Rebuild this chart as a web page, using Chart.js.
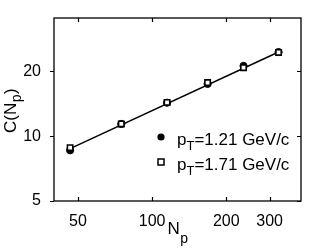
<!DOCTYPE html>
<html>
<head>
<meta charset="utf-8">
<script src="https://cdn.jsdelivr.net/npm/chart.js@4"></script>
<style>
    html, body { margin: 0; padding: 0; background: #fff; }
    #wrap { width: 332px; height: 250px; }
</style>
</head>
<body>
<div id="wrap"><canvas id="chart"></canvas></div>
<script>
// Participant numbers (x) and C(Np) values
const nPart = [46.5, 75, 115, 168, 235, 326];
const cLow = [8.6, 11.4, 14.3, 17.5, 21.2, 24.6];   // pT = 1.21 GeV/c
const cHigh = [8.85, 11.4, 14.35, 17.75, 20.8, 24.5]; // pT = 1.71 GeV/c
// fit line end points
const fitX = [46.5, 326];
const fitY = [8.75, 24.6];
// tick labels
const xTicks = [50, 100, 200, 300];
const yTicks = [5, 10, 20];
const legendLabels = ['=1.21 GeV/c', '=1.71 GeV/c'];

const FONT = '"Liberation Sans", Arial, Helvetica, sans-serif';
const toPoints = (xs, ys) => xs.map((x, i) => ({ x: x, y: ys[i] }));

// draws the box, inward ticks, axis titles with subscripts and the legend
const decorations = {
    id: 'decorations',
    afterDraw(chart) {
        const ctx = chart.ctx;
        const area = chart.chartArea;
        const xs = chart.scales.x;
        const ys = chart.scales.y;
        ctx.save();
        ctx.strokeStyle = '#000';
        ctx.lineWidth = 1.3;
        ctx.strokeRect(area.left, area.top, area.right - area.left, area.bottom - area.top);

        ctx.lineWidth = 1.2;
        ctx.beginPath();
        xTicks.forEach(v => {
            const px = Math.round(xs.getPixelForValue(v)) + 0.5;
            ctx.moveTo(px, area.bottom); ctx.lineTo(px, area.bottom - 4);
            ctx.moveTo(px, area.top); ctx.lineTo(px, area.top + 4);
        });
        yTicks.forEach(v => {
            const py = Math.round(ys.getPixelForValue(v)) + 0.5;
            ctx.moveTo(area.left, py); ctx.lineTo(area.left - 4, py);
            ctx.moveTo(area.right, py); ctx.lineTo(area.right - 4, py);
        });
        ctx.stroke();

        ctx.fillStyle = '#000';
        ctx.textBaseline = 'alphabetic';
        ctx.textAlign = 'left';

        // x title: N_p
        ctx.font = '17px ' + FONT;
        let w = ctx.measureText('N').width;
        ctx.font = '14px ' + FONT;
        const wp = ctx.measureText('p').width;
        let x0 = (area.left + area.right) / 2 - (w + wp) / 2;
        ctx.font = '17px ' + FONT;
        ctx.fillText('N', x0, 234);
        ctx.font = '14px ' + FONT;
        ctx.fillText('p', x0 + w + 0.5, 243);

        // y title: C(N_p)
        ctx.save();
        ctx.translate(16, 133);
        ctx.rotate(-Math.PI / 2);
        ctx.font = '17px ' + FONT;
        ctx.fillText('C(N', 0, 0);
        let off = ctx.measureText('C(N').width;
        ctx.font = '14px ' + FONT;
        ctx.fillText('p', off + 0.5, 5);
        off += ctx.measureText('p').width + 1;
        ctx.font = '17px ' + FONT;
        ctx.fillText(')', off, 0);
        ctx.restore();

        // legend
        const rows = [145, 170];
        rows.forEach((base, i) => {
            const my = base - 8;
            if (i === 0) {
                ctx.beginPath();
                ctx.arc(161, my, 3.6, 0, Math.PI * 2);
                ctx.fill();
            } else {
                ctx.fillStyle = '#fff';
                ctx.fillRect(158, my - 3, 6, 6);
                ctx.fillStyle = '#000';
                ctx.lineWidth = 1.5;
                ctx.strokeRect(158, my - 3, 6, 6);
            }
            ctx.font = '17px ' + FONT;
            ctx.fillText('p', 177, base);
            let tx = 177 + ctx.measureText('p').width;
            ctx.font = '13px ' + FONT;
            ctx.fillText('T', tx, base + 5);
            tx += ctx.measureText('T').width;
            ctx.font = '17px ' + FONT;
            ctx.fillText(legendLabels[i], tx, base);
        });
        ctx.restore();
    }
};

new Chart(document.getElementById('chart'), {
    type: 'scatter',
    data: {
        datasets: [
            {
                label: 'fit',
                type: 'line',
                data: toPoints(fitX, fitY),
                borderColor: '#000',
                borderWidth: 1.5,
                pointRadius: 0,
                fill: false,
                order: 3
            },
            {
                label: 'pT=1.21 GeV/c',
                data: toPoints(nPart, cLow),
                pointStyle: 'circle',
                pointRadius: 3.6,
                backgroundColor: '#000',
                borderColor: '#000',
                borderWidth: 1,
                order: 2
            },
            {
                label: 'pT=1.71 GeV/c',
                data: toPoints(nPart, cHigh),
                pointStyle: 'rect',
                pointRadius: 3.8,
                backgroundColor: '#fff',
                borderColor: '#000',
                borderWidth: 1.6,
                order: 1
            }
        ]
    },
    options: {
        responsive: true,
        maintainAspectRatio: false,
        animation: false,
        layout: { padding: { top: 18, right: 31, left: 0, bottom: 0 } },
        plugins: {
            legend: { display: false },
            tooltip: { enabled: false }
        },
        scales: {
            x: {
                type: 'logarithmic',
                min: 40,
                max: 402,
                grid: { display: false },
                border: { display: false },
                afterBuildTicks: s => { s.ticks = xTicks.map(v => ({ value: v })); },
                afterFit: s => { s.height = 49; },
                ticks: {
                    autoSkip: false,
                    maxRotation: 0,
                    padding: 3,
                    color: '#000',
                    font: { family: FONT, size: 16 },
                    callback: v => String(v)
                }
            },
            y: {
                type: 'logarithmic',
                min: 5,
                max: 35.4,
                grid: { display: false },
                border: { display: false },
                afterBuildTicks: s => { s.ticks = yTicks.map(v => ({ value: v })); },
                afterFit: s => { s.width = 54; },
                ticks: {
                    autoSkip: false,
                    padding: 5,
                    color: '#000',
                    font: { family: FONT, size: 16 },
                    callback: v => String(v)
                }
            }
        }
    },
    plugins: [decorations]
});
</script>
</body>
</html>
